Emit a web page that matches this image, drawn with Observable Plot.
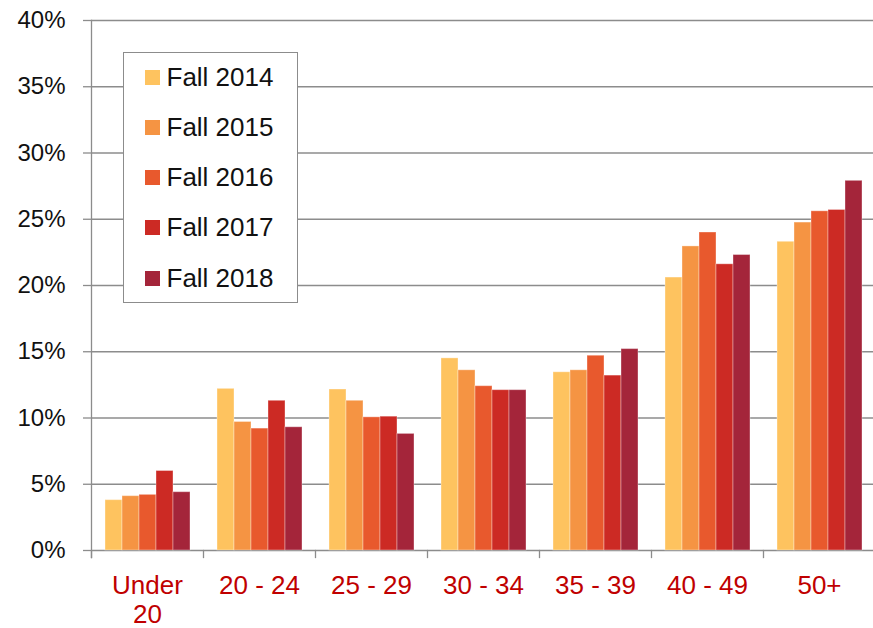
<!DOCTYPE html>
<html>
<head>
<meta charset="utf-8">
<script src="https://cdn.jsdelivr.net/npm/d3@7"></script>
<script src="https://cdn.jsdelivr.net/npm/@observablehq/plot@0.6"></script>
<style>
  html, body { margin: 0; padding: 0; background: white; overflow: hidden; }
  #wrap { position: relative; width: 873px; height: 628px; overflow: hidden; font-family: "Liberation Sans", Arial, sans-serif; }
  #wrap svg { overflow: hidden; }
  .legend { position: absolute; left: 123px; top: 52px; width: 175px; height: 251px; box-sizing: border-box;
            border: 1.5px solid #8c8c8c; background: white; }
  .legend .row { position: absolute; left: 20.5px; height: 26px; display: flex; align-items: center; font-size: 26px; color: #111; }
  .legend .sw { width: 15px; height: 15px; margin-right: 7px; }
</style>
</head>
<body>
<div id="wrap"></div>
<script>
const ages = ["Under\n20", "20 - 24", "25 - 29", "30 - 34", "35 - 39", "40 - 49", "50+"];
const years = ["Fall 2014", "Fall 2015", "Fall 2016", "Fall 2017", "Fall 2018"];
const colors = ["#fec35f", "#f59443", "#e8592d", "#cc2a24", "#a4253a"];
const fall2014 = [3.8, 12.2, 12.15, 14.5, 13.45, 20.6, 23.3];
const fall2015 = [4.1, 9.7, 11.3, 13.6, 13.6, 22.95, 24.75];
const fall2016 = [4.2, 9.2, 10.05, 12.4, 14.7, 24.0, 25.6];
const fall2017 = [6.0, 11.3, 10.1, 12.1, 13.2, 21.6, 25.7];
const fall2018 = [4.4, 9.3, 8.8, 12.1, 15.2, 22.3, 27.9];
const yTicks = [0, 5, 10, 15, 20, 25, 30, 35, 40];

const series = [fall2014, fall2015, fall2016, fall2017, fall2018];
const data = [];
ages.forEach((age, i) => years.forEach((year, j) => data.push({age, year, value: series[j][i]})));

const W = 873, H = 628, mT = 20, mB = 78;
const gridColor = "#8c8c8c";

const chart = Plot.plot({
  width: W, height: H,
  marginLeft: 89, marginRight: -3, marginTop: mT, marginBottom: mB,
  style: {fontFamily: "'Liberation Sans', Arial, sans-serif", background: "white"},
  fx: {domain: ages, padding: 0, label: null},
  x: {domain: years, paddingInner: 0, paddingOuter: 0.756, axis: null},
  y: {domain: [0, 40]},
  color: {domain: years, range: colors},
  marks: [
    Plot.gridY(yTicks, {stroke: gridColor, strokeOpacity: 1, strokeWidth: 1.3}),
    Plot.barY(data, {fx: "age", x: "year", y: "value", fill: "year", stroke: "white", strokeOpacity: 0.35, strokeWidth: 1}),
    Plot.frame({anchor: "left", insetTop: H - mT - mB, insetBottom: -7, stroke: gridColor, strokeWidth: 1.3}),
    Plot.frame({anchor: "left", fx: () => ages[0], insetBottom: -7, stroke: gridColor, strokeWidth: 1.3}),
    Plot.axisY(yTicks, {tickSize: 8, tickPadding: 18, tickFormat: d => d + "%", fontSize: 24, color: "#111", stroke: gridColor, strokeWidth: 1.3, label: null}),
    Plot.axisFx({anchor: "bottom", tickSize: 0, tickPadding: 24, fontSize: 26, color: "#c00000", lineHeight: 1.08, label: null})
  ]
});

const wrap = document.getElementById("wrap");
wrap.appendChild(chart);

const legend = document.createElement("div");
legend.className = "legend";
years.forEach((y, i) => {
  const row = document.createElement("div");
  row.className = "row";
  row.style.top = (11 + i * 50.3) + "px";
  const sw = document.createElement("span");
  sw.className = "sw";
  sw.style.background = colors[i];
  const t = document.createElement("span");
  t.textContent = y;
  row.appendChild(sw);
  row.appendChild(t);
  legend.appendChild(row);
});
wrap.appendChild(legend);
</script>
</body>
</html>
